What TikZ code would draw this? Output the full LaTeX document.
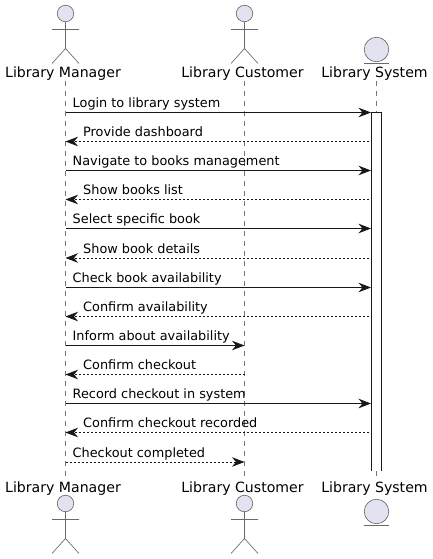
\documentclass[tikz,border=0pt]{standalone}
\usepackage{fontspec}
\setmainfont{DejaVu Sans}
\usetikzlibrary{arrows.meta}
\definecolor{partfill}{HTML}{E2E2F0}
\definecolor{ink}{HTML}{181818}
\tikzset{
  head/.style={circle,draw=ink!65,line width=.65pt,fill=partfill,inner sep=0pt,minimum size=16.5pt},
  ball/.style={circle,draw=ink!65,line width=.65pt,fill=partfill,inner sep=0pt,minimum size=24.5pt},
  limb/.style={draw=ink!65,line width=.65pt},
  part/.style={font=\fontsize{14.1}{16}\selectfont,text=black,inner sep=0pt},
  msg/.style={font=\fontsize{12.85}{15}\selectfont,text=black,inner sep=0pt,anchor=base west},
  life/.style={draw=ink!60,line width=.6pt,dash pattern=on 5pt off 5pt},
  call/.style={draw=ink,line width=.8pt,-{Stealth[length=12.5pt,width=9.5pt,inset=4pt]}},
  reply/.style={draw=ink,line width=.8pt,dash pattern=on 2pt off 2pt,-{Stealth[length=12.5pt,width=9.5pt,inset=4pt]}},
  pics/stick/.style={code={
    \node[head] (-h) at (0,0) {};
    \draw[limb] (-h) -- (0,-35) (-13.5,-16) -- (13.5,-16) (-13.5,-50) -- (0,-35) -- (13.5,-50);
  }}
}
\begin{document}
\begin{tikzpicture}[x=1pt,y=1pt]
  \useasboundingbox (0,0) rectangle (433,-559);
  % lifelines
  \coordinate (mt) at (65.5,-81);  \coordinate (mb) at (65.5,-478);
  \coordinate (ct) at (244.5,-81); \coordinate (cb) at (244.5,-478);
  \coordinate (st) at (376.5,-81); \coordinate (sb) at (376.5,-478);
  \draw[life] (mt) -- (mb);
  \draw[life] (ct) -- (cb);
  \draw[life] (st) -- (sb);
  % participants
  \pic (mtop) at (65.5,-13.5) {stick};
  \pic (ctop) at (244.5,-13.5) {stick};
  \node[ball] (stop) at (376.5,-49.5) {};
  \coordinate (sl1) at (364,-63); \coordinate (sr1) at (389,-63);
  \draw[limb] (sl1) -- (sr1);
  \node[part,anchor=base] (mn1) at (63,-78) {Library Manager};
  \node[part,anchor=base] (cn1) at (242.5,-78) {Library Customer};
  \node[part,anchor=base] (sn1) at (374.5,-78) {Library System};
  \node[part,anchor=base] (mn2) at (63,-492) {Library Manager};
  \node[part,anchor=base] (cn2) at (242.5,-492) {Library Customer};
  \node[part,anchor=base] (sn2) at (374.5,-492) {Library System};
  \pic (mbot) at (65.5,-503.5) {stick};
  \pic (cbot) at (244.5,-503.5) {stick};
  \node[ball] (sbot) at (376.5,-511.5) {};
  \coordinate (sl2) at (364,-525.5); \coordinate (sr2) at (389,-525.5);
  \draw[limb] (sl2) -- (sr2);
  % activation bar
  \coordinate (ab1) at (371.5,-471); \coordinate (ab2) at (371.5,-112.5);
  \coordinate (ab3) at (381,-112.5); \coordinate (ab4) at (381,-471);
  \fill[white] (ab1) -- (ab2) -- (ab3) -- (ab4) -- cycle;
  \draw[ink,line width=.8pt] (ab1) -- (ab2) -- (ab3) -- (ab4);
  % messages
  \coordinate (a1) at (65.5,-112.5);  \coordinate (b1) at (371,-112.5);
  \draw[call] (a1) -- (b1);
  \node[msg] (t1) at (72.5,-107) {Login to library system};
  \coordinate (a2) at (369,-141.5);   \coordinate (b2) at (65.5,-141.5);
  \draw[reply] (a2) -- (b2);
  \node[msg] (t2) at (83,-136) {Provide dashboard};
  \coordinate (a3) at (65.5,-170.5);  \coordinate (b3) at (371,-170.5);
  \draw[call] (a3) -- (b3);
  \node[msg] (t3) at (72.5,-165.5) {Navigate to books management};
  \coordinate (a4) at (369,-199.5);   \coordinate (b4) at (65.5,-199.5);
  \draw[reply] (a4) -- (b4);
  \node[msg] (t4) at (83,-194.5) {Show books list};
  \coordinate (a5) at (65.5,-228.5);  \coordinate (b5) at (371,-228.5);
  \draw[call] (a5) -- (b5);
  \node[msg] (t5) at (72.5,-223.5) {Select specific book};
  \coordinate (a6) at (369,-258);     \coordinate (b6) at (65.5,-258);
  \draw[reply] (a6) -- (b6);
  \node[msg] (t6) at (83,-253) {Show book details};
  \coordinate (a7) at (65.5,-287.5);  \coordinate (b7) at (371,-287.5);
  \draw[call] (a7) -- (b7);
  \node[msg] (t7) at (72.5,-282.5) {Check book availability};
  \coordinate (a8) at (369,-316.5);   \coordinate (b8) at (65.5,-316.5);
  \draw[reply] (a8) -- (b8);
  \node[msg] (t8) at (83,-311) {Confirm availability};
  \coordinate (a9) at (65.5,-345.5);  \coordinate (b9) at (244.5,-345.5);
  \draw[call] (a9) -- (b9);
  \node[msg] (t9) at (72.5,-340) {Inform about availability};
  \coordinate (a10) at (244.5,-374.5); \coordinate (b10) at (65.5,-374.5);
  \draw[reply] (a10) -- (b10);
  \node[msg] (t10) at (83,-369.5) {Confirm checkout};
  \coordinate (a11) at (65.5,-403.5); \coordinate (b11) at (371,-403.5);
  \draw[call] (a11) -- (b11);
  \node[msg] (t11) at (72.5,-398.5) {Record checkout in system};
  \coordinate (a12) at (369,-432.5);  \coordinate (b12) at (65.5,-432.5);
  \draw[reply] (a12) -- (b12);
  \node[msg] (t12) at (83,-427.5) {Confirm checkout recorded};
  \coordinate (a13) at (65.5,-462);   \coordinate (b13) at (244.5,-462);
  \draw[reply] (a13) -- (b13);
  \node[msg] (t13) at (72.5,-457) {Checkout completed};
\end{tikzpicture}
\end{document}
